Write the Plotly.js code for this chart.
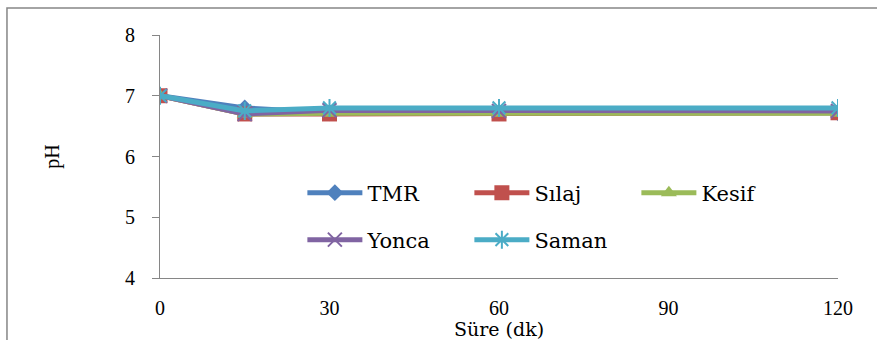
<!DOCTYPE html>
<html><head><meta charset="utf-8">
<script src="https://cdn.plot.ly/plotly-3.0.1.min.js"></script>
<style>html,body{margin:0;padding:0;background:#fff}#c{width:877px;height:340px}</style>
</head><body><div id="c"></div>
<script>
const times = [0, 15, 30, 60, 120];
const tmr   = [7.0, 6.8, 6.72, 6.72, 6.72];
const silaj = [7.0, 6.7, 6.7, 6.7, 6.72];
const kesif = [7.0, 6.7, 6.71, 6.71, 6.71];
const yonca = [7.0, 6.7, 6.76, 6.75, 6.75];
const saman = [7.0, 6.75, 6.8, 6.8, 6.8];
const names = ["TMR", "Sılaj", "Kesif", "Yonca", "Saman"];
const xTicks = [0, 30, 60, 90, 120];

const series = [tmr, silaj, kesif, yonca, saman];
const colors = ["#4F81BD", "#C0504D", "#9BBB59", "#8064A2", "#4BACC6"];
const symbols = ["diamond", "square", "triangle-up", "x-thin", "asterisk"];
const sizes = [13, 15, 14, 14, 15];
const traces = series.map((ys, i) => ({
  x: times, y: ys, name: names[i], type: "scatter", mode: "lines+markers",
  legend: i < 3 ? "legend" : "legend2",
  line: {color: colors[i], width: 5},
  marker: {symbol: symbols[i], size: sizes[i], color: colors[i],
           line: {color: colors[i], width: (i >= 3 ? 2 : 0)}}
}));

const serif = "Liberation Serif";
const serif2 = "DejaVu Serif";
const legBase = {orientation: "h", xanchor: "left", yanchor: "middle",
  entrywidth: 97, entrywidthmode: "pixels",
  font: {family: serif2, size: 21, color: "#000"},
  bgcolor: "rgba(0,0,0,0)", itemwidth: 55};
const layout = {
  width: 877, height: 340,
  margin: {l: 160, r: 39, t: 35, b: 62},
  paper_bgcolor: "#fff", plot_bgcolor: "#fff",
  font: {family: serif, size: 20, color: "#000"},
  showlegend: true,
  legend: Object.assign({}, legBase, {x: 0.21, y: (278 - 193) / 243}),
  legend2: Object.assign({}, legBase, {x: 0.21, y: (278 - 240) / 243}),
  xaxis: {range: [0, 120], tickvals: xTicks, ticktext: xTicks.map(String),
          showgrid: false, zeroline: false, showline: true, linecolor: "#868686", linewidth: 1,
          ticks: "", ticklabelstandoff: 12, tickfont: {family: serif, size: 20, color: "#000"}},
  yaxis: {range: [4, 8], dtick: 1, showgrid: false, zeroline: false, showline: true,
          linecolor: "#868686", linewidth: 1, ticks: "outside", ticklen: 7, tickcolor: "#868686",
          ticklabelstandoff: 13, tickfont: {family: serif, size: 20, color: "#000"},
          title: {text: "pH", font: {family: serif, size: 20, color: "#000"}, standoff: 60}},
  annotations: [{text: "Süre (dk)", xref: "paper", yref: "paper", x: 0.5, y: (278 - 316) / 243,
                 xanchor: "center", yanchor: "top", showarrow: false,
                 font: {family: serif2, size: 19, color: "#000"}}],
  shapes: [{type: "rect", xref: "paper", yref: "paper", x0: -0.2257, x1: 1.2, y0: -0.5, y1: 1.111,
            line: {color: "#868686", width: 1.5}, fillcolor: "rgba(0,0,0,0)", layer: "below"}]
};
Plotly.newPlot("c", traces, layout, {displayModeBar: false, staticPlot: true});
</script></body></html>
